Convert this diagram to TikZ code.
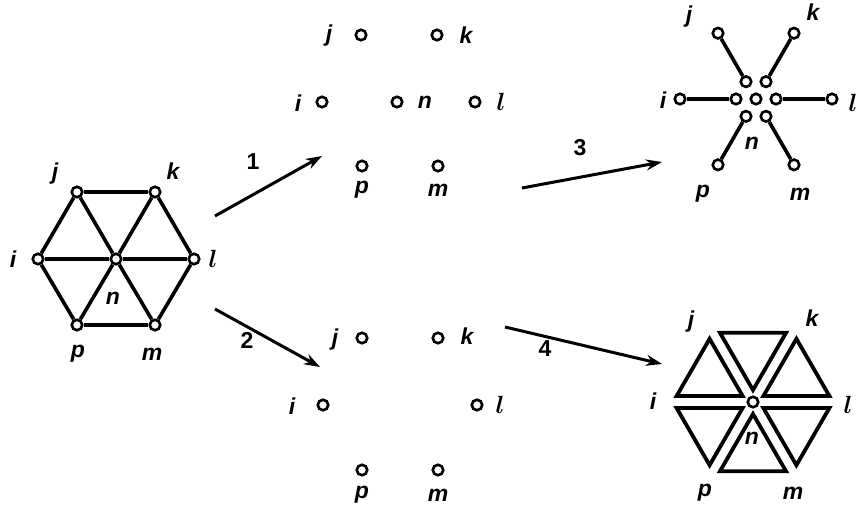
\documentclass[tikz,border=0pt]{standalone}
\usepackage{fontspec}
\setmainfont{Liberation Sans}
\usetikzlibrary{calc,arrows.meta}
\newcommand{\ellab}{{\fontsize{26}{26}\selectfont\boldmath$l$}}
\begin{document}
\begin{tikzpicture}[x=1pt,y=-1pt,
  vtx/.style={circle,draw,fill=white,line width=2.6pt,minimum size=10.5pt,inner sep=0pt},
  edge/.style={line width=3.6pt},
  tri/.style={line width=3.8pt,line join=miter},
  lab/.style={font=\fontsize{23}{23}\selectfont\bfseries\itshape,inner sep=0pt},
  num/.style={font=\fontsize{23}{23}\selectfont\bfseries,inner sep=0pt},
  arr/.style={line width=3pt,-{Stealth[length=16pt,width=11pt]}}]
\useasboundingbox (0,0) rectangle (862,512);

% ---------- left hexagon ----------
\node[vtx] (Ln) at (116,259) {};
\node[vtx] (Li) at (38,259) {};
\node[vtx] (Ll) at (194,259) {};
\node[vtx] (Lj) at (77,192) {};
\node[vtx] (Lk) at (155,192) {};
\node[vtx] (Lp) at (77,325) {};
\node[vtx] (Lm) at (155,325) {};
\foreach \a/\b in {Li/Lj,Lj/Lk,Lk/Ll,Ll/Lm,Lm/Lp,Lp/Li,Ln/Li,Ln/Lj,Ln/Lk,Ln/Ll,Ln/Lm,Ln/Lp}
  \draw[edge] (\a) -- (\b);
\node[lab] (LjL) at (55,174) {j};
\node[lab] (LkL) at (173,171) {k};
\node[lab] (LiL) at (13,259) {i};
\node[lab] (LlL) at (213,259) {\ellab};
\node[lab] (LnL) at (113,298) {n};
\node[lab] (LpL) at (78,354) {p};
\node[lab] (LmL) at (152,354) {m};

% ---------- middle top ----------
\node[vtx] (Tj) at (361,35) {};
\node[vtx] (Tk) at (437,35) {};
\node[vtx] (Ti) at (322,102) {};
\node[vtx] (Tn) at (397,102) {};
\node[vtx] (Tl) at (475,102) {};
\node[vtx] (Tp) at (362,166) {};
\node[vtx] (Tm) at (438,166) {};
\node[lab] (TjL) at (329,36) {j};
\node[lab] (TkL) at (466,35) {k};
\node[lab] (TiL) at (298,103) {i};
\node[lab] (TnL) at (425,102) {n};
\node[lab] (TlL) at (501,102) {\ellab};
\node[lab] (TpL) at (362,190) {p};
\node[lab] (TmL) at (438,190) {m};

% ---------- middle bottom ----------
\node[vtx] (Bj) at (362,338) {};
\node[vtx] (Bk) at (438,338) {};
\node[vtx] (Bi) at (323,405) {};
\node[vtx] (Bl) at (477,405) {};
\node[vtx] (Bp) at (362,470) {};
\node[vtx] (Bm) at (438,470) {};
\node[lab] (BjL) at (335,340) {j};
\node[lab] (BkL) at (467,336) {k};
\node[lab] (BiL) at (292,406) {i};
\node[lab] (BlL) at (500,405) {\ellab};
\node[lab] (BpL) at (362,495) {p};
\node[lab] (BmL) at (438,495) {m};

% ---------- top right star ----------
\coordinate (Sc) at (756,99);
\node[vtx] (Sn) at (Sc) {};
\foreach \v/\a in {l/0,m/60,p/120,i/180,j/240,k/300}{
  \node[vtx] (Si\v) at ($(Sc)+(\a:20)$) {};
  \node[vtx] (So\v) at ($(Sc)+(\a:76)$) {};
  \draw[edge] (Si\v) -- (So\v);
}
\node[lab] (SjL) at (689,17) {j};
\node[lab] (SkL) at (813,12) {k};
\node[lab] (SiL) at (663,100) {i};
\node[lab] (SlL) at (853,103) {\ellab};
\node[lab] (SnL) at (752,143) {n};
\node[lab] (SpL) at (703,194) {p};
\node[lab] (SmL) at (800,194) {m};

% ---------- bottom right triangles ----------
\coordinate (Hc) at (753,402);
\foreach \a in {0,60,120,180,240,300}{
  \pgfmathsetmacro{\b}{\a+30}
  \pgfmathsetmacro{\e}{\a+60}
  \draw[tri] ($(Hc)+(\b:12)$) -- ($(Hc)+(\b:12)+(\a:66)$) -- ($(Hc)+(\b:12)+(\e:66)$) -- cycle;
}
\node[vtx] (Hn) at (Hc) {};
\node[lab] (HjL) at (691,322) {j};
\node[lab] (HkL) at (812,318) {k};
\node[lab] (HiL) at (653,401) {i};
\node[lab] (HlL) at (848,405) {\ellab};
\node[lab] (HnL) at (752,438) {n};
\node[lab] (HpL) at (705,493) {p};
\node[lab] (HmL) at (793,493) {m};

% ---------- arrows ----------
\coordinate (A1s) at (215,216); \coordinate (A1e) at (322,156);
\coordinate (A2s) at (215,309); \coordinate (A2e) at (320,367);
\coordinate (A3s) at (522,188); \coordinate (A3e) at (662,162);
\coordinate (A4s) at (505,327); \coordinate (A4e) at (662,364);
\draw[arr] (A1s) -- (A1e);
\draw[arr] (A2s) -- (A2e);
\draw[arr] (A3s) -- (A3e);
\draw[arr] (A4s) -- (A4e);
\node[num] (N1) at (253,162) {1};
\node[num] (N2) at (247,340) {2};
\node[num] (N3) at (580,148) {3};
\node[num] (N4) at (545,349) {4};
\end{tikzpicture}
\end{document}
